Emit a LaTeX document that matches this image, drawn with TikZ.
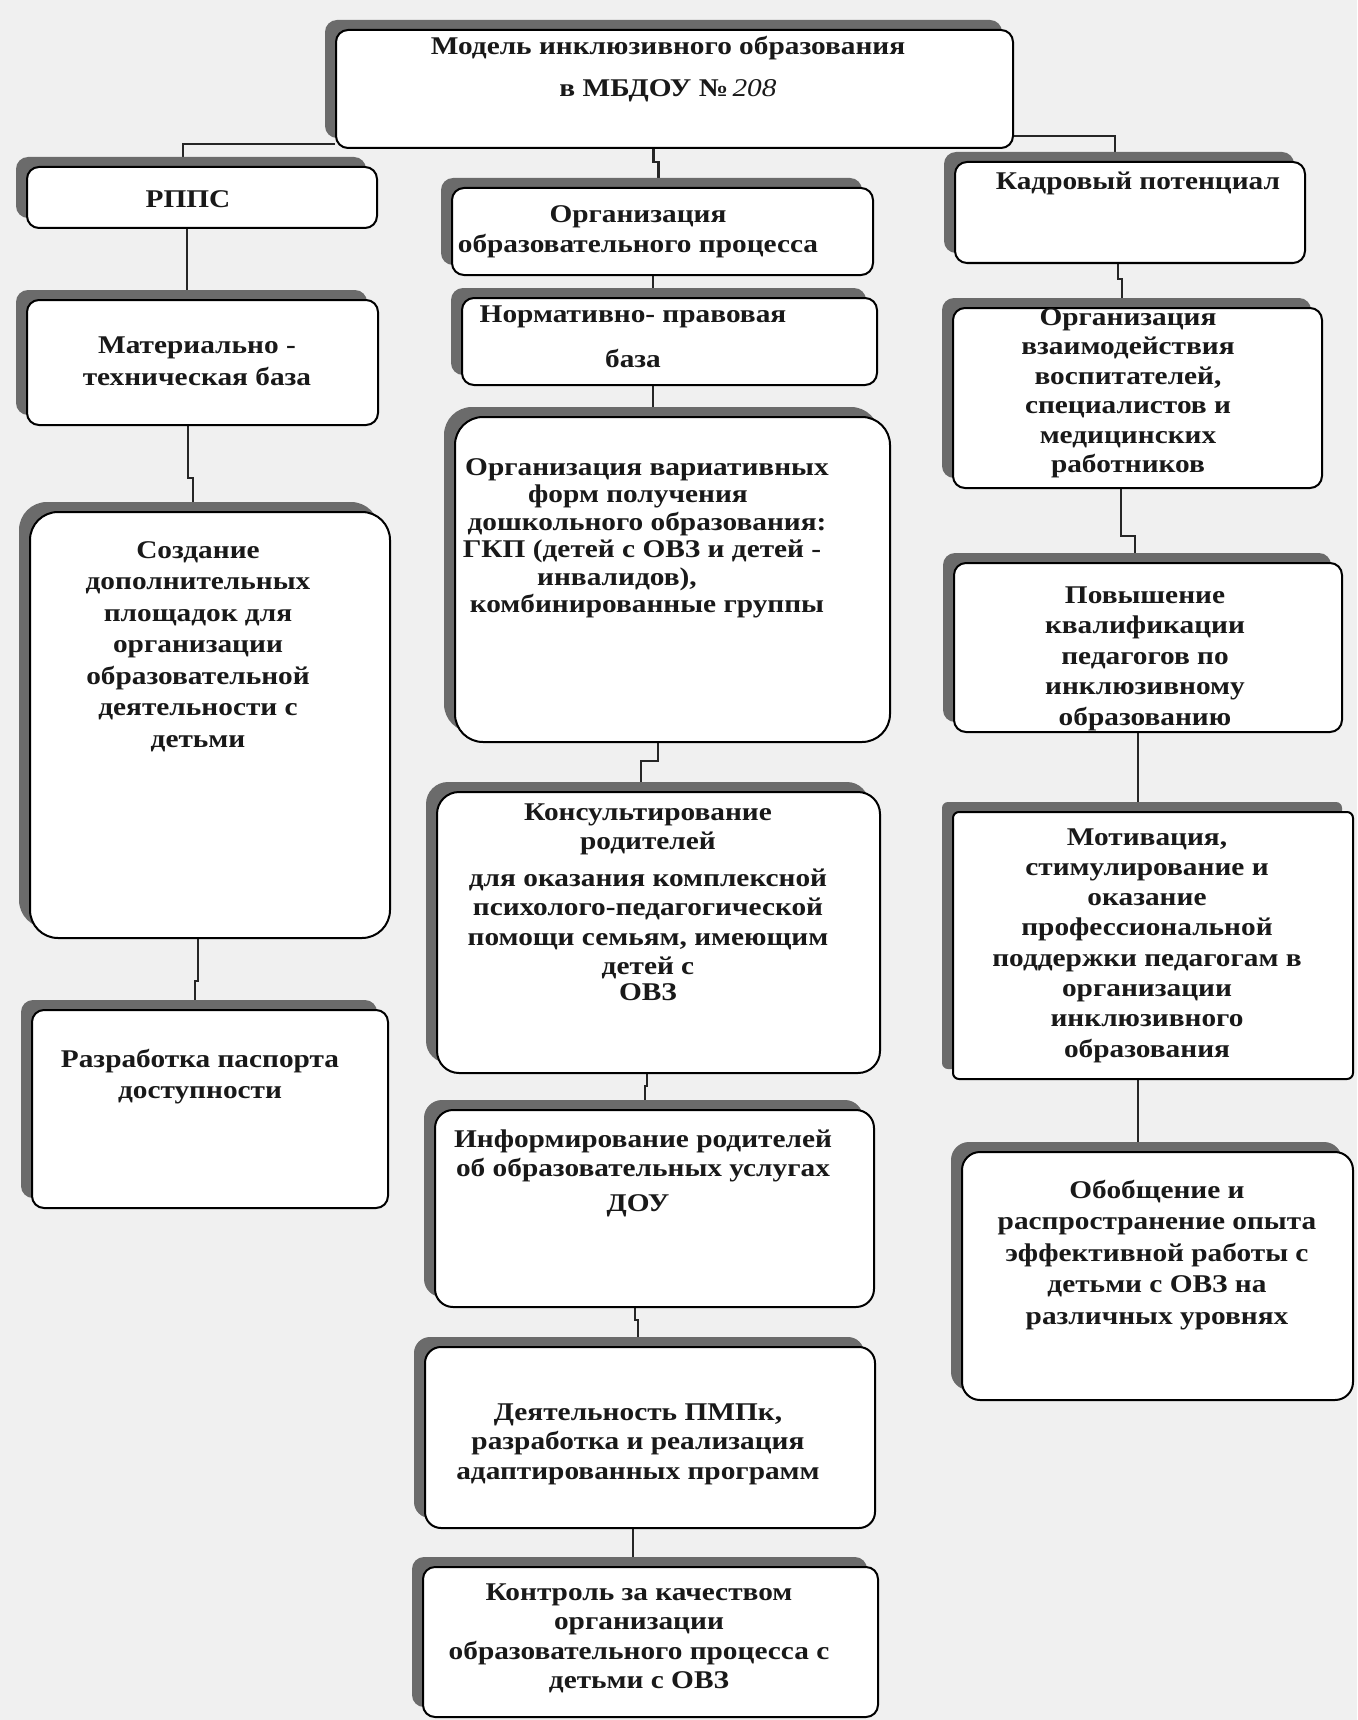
\documentclass[tikz,border=0pt]{standalone}
\usepackage{fontspec}
\setmainfont{Liberation Serif}[FakeStretch=1.15]
\usetikzlibrary{shadows,fit,calc}
\pgfdeclarelayer{bg}
\pgfsetlayers{bg,main}
\newcommand\boxfont[1]{\bfseries\fontsize{25.5}{#1}\selectfont}
\newcommand\mlines[1]{\begin{tabular}[t]{@{}c@{}}#1\end{tabular}}
\tikzset{
  bx/.style={draw=black, line width=2pt, fill=white, rounded corners=#1, inner sep=0pt,
    drop shadow={shadow xshift=-11pt, shadow yshift=10pt, fill=black!58, opacity=1}},
  bx/.default=12pt,
  conn/.style={draw=black!85, line width=2.5pt},
  txt/.style={inner sep=0pt, anchor=base, text=black!90}
}
\begin{document}
\begin{tikzpicture}[x=1pt,y=-1pt]
\useasboundingbox (0,0) rectangle (1357,1720);
\begin{pgfonlayer}{bg}
\fill[black!6] (0,0) rectangle (1357,1720);
\end{pgfonlayer}

% boxes
\node[bx, fit={(336,30) (1013,148)}] (top) {};
\node[bx, fit={(27,167) (377,228)}] (rpps) {};
\node[bx, fit={(452,188) (873,275)}] (org) {};
\node[bx, fit={(955,162) (1305,263)}] (kad) {};
\node[bx, fit={(27,300) (378,425)}] (mat) {};
\node[bx, fit={(462,298) (877,385)}] (norm) {};
\node[bx, fit={(953,308) (1322,488)}] (vzai) {};
\node[bx=28pt, fit={(30,512) (390,938)}] (soz) {};
\node[bx=28pt, fit={(455,417) (890,742)}] (var) {};
\node[bx, fit={(954,563) (1342,732)}] (pov) {};
\node[bx, fit={(32,1010) (388,1208)}] (razr) {};
\node[bx=22pt, fit={(437,792) (880,1073)}] (kons) {};
\node[bx=6pt, fit={(953,812) (1353,1079)}] (motiv) {};
\node[bx=18pt, fit={(435,1110) (874,1307)}] (inf) {};
\node[bx=18pt, fit={(962,1152) (1353,1400)}] (obob) {};
\node[bx=16pt, fit={(425,1347) (875,1528)}] (deyat) {};
\node[bx, fit={(423,1567) (878,1717)}] (kontr) {};

% texts
\node[txt, font=\boxfont{29}] (top-t) at (668,55) {\mlines{Модель инклюзивного образования\\[13pt]в МБДОУ №\,{\mdseries\itshape 208}}};
\node[txt, font=\boxfont{29}] (rpps-t) at (188,208) {РППС};
\node[txt, font=\boxfont{29}] (org-t) at (638,223) {\mlines{Организация\\образовательного процесса}};
\node[txt, font=\boxfont{29}] (kad-t) at (1138,190) {Кадровый потенциал};
\node[txt, font=\boxfont{32}] (mat-t) at (197,353) {\mlines{Материально -\\техническая база}};
\node[txt, font=\boxfont{45}] (norm-t) at (633,322) {\mlines{Нормативно- правовая\\база}};
\node[txt, font=\boxfont{29.5}] (vzai-t) at (1128,325) {\mlines{Организация\\взаимодействия\\воспитателей,\\специалистов и\\медицинских\\работников}};
\node[txt, font=\boxfont{31.5}] (soz-t) at (198,558) {\mlines{Создание\\дополнительных\\площадок для\\организации\\образовательной\\деятельности с\\детьми}};
\node[txt, font=\boxfont{27.5}] (var-t) at (647,475) {\mlines{Организация вариативных\\форм получения\hspace*{18pt}\\дошкольного образования:\\ГКП (детей с ОВЗ и детей -\hspace*{10pt}\\инвалидов),\hspace*{60pt}\\комбинированные группы}};
\node[txt, font=\boxfont{30.5}] (pov-t) at (1145,603) {\mlines{Повышение\\квалификации\\педагогов по\\инклюзивному\\образованию}};
\node[txt, font=\boxfont{31}] (razr-t) at (200,1067) {\mlines{Разработка паспорта\\доступности}};
\node[txt, font=\boxfont{29.5}] (kons-t) at (648,820) {\mlines{Консультирование\\родителей\\[7pt]для оказания комплексной\\психолого-педагогической\\помощи семьям, имеющим\\детей с\\[-4pt]ОВЗ}};
\node[txt, font=\boxfont{30.3}] (motiv-t) at (1147,845) {\mlines{Мотивация,\\стимулирование и\\оказание\\профессиональной\\поддержки педагогам в\\организации\\инклюзивного\\образования}};
\node[txt, font=\boxfont{29}] (inf-t) at (643,1147) {\mlines{Информирование родителей\\об образовательных услугах\\[6pt]ДОУ\hspace*{10pt}}};
\node[txt, font=\boxfont{31.5}] (obob-t) at (1157,1198) {\mlines{Обобщение и\\распространение опыта\\эффективной работы с\\детьми с ОВЗ на\\различных уровнях}};
\node[txt, font=\boxfont{29.5}] (deyat-t) at (638,1420) {\mlines{Деятельность ПМПк,\\разработка и реализация\\адаптированных программ}};
\node[txt, font=\boxfont{29.5}] (kontr-t) at (639,1600) {\mlines{Контроль за качеством\\организации\\образовательного процесса с\\детьми с ОВЗ}};

% connectors
\begin{pgfonlayer}{bg}
\draw[conn] ([yshift=5pt]top.south west) -| ([xshift=-19pt]rpps.north);
\draw[conn] ([yshift=13pt]top.south east) -| ([xshift=-15pt]kad.north);
\draw[conn] ([xshift=-21pt]top.south) -- ++(0,13) -- ++(5,0) coordinate (j0) -- (j0 |- org.north);
\draw[conn] ([xshift=-15pt]rpps.south) coordinate (j1) -- (j1 |- mat.north);
\draw[conn] ([xshift=-9.5pt]org.south) coordinate (j6) -- (j6 |- norm.north);
\draw[conn] ([xshift=-12pt]kad.south) -- ++(0,15) -- ++(4,0) coordinate (j7) -- (j7 |- vzai.north);
\draw[conn] ([xshift=-14.5pt]mat.south) -- ++(0,52) -- ++(5,0) coordinate (j2) -- (j2 |- soz.north);
\draw[conn] ([xshift=-16.5pt]norm.south) coordinate (j8) -- (j8 |- var.north);
\draw[conn] ([xshift=-16.5pt]vzai.south) -- ++(0,47) -- ++(14,0) coordinate (j3) -- (j3 |- pov.north);
\draw[conn] ([xshift=-10pt]pov.south) coordinate (j9) -- (j9 |- motiv.north);
\draw[conn] ([xshift=-12pt]soz.south) -- ++(0,42) -- ++(-3,0) coordinate (j4) -- (j4 |- razr.north);
\draw[conn] ([xshift=-14.5pt]var.south) -- ++(0,18) -- ++(-17,0) coordinate (j5) -- (j5 |- kons.north);
\draw[conn] ([xshift=-15pt]motiv.south) coordinate (j10) -- (j10 |- obob.north);
\draw[conn] ([xshift=-11.5pt]kons.south) -- ++(0,12) -- ++(-2,0) coordinate (j11) -- (j11 |- inf.north);
\draw[conn] ([xshift=-19.5pt]inf.south) -- ++(0,12) -- ++(3,0) coordinate (j12) -- (j12 |- deyat.north);
\draw[conn] ([xshift=-17pt]deyat.south) coordinate (j13) -- (j13 |- kontr.north);
\end{pgfonlayer}
\end{tikzpicture}
\end{document}
